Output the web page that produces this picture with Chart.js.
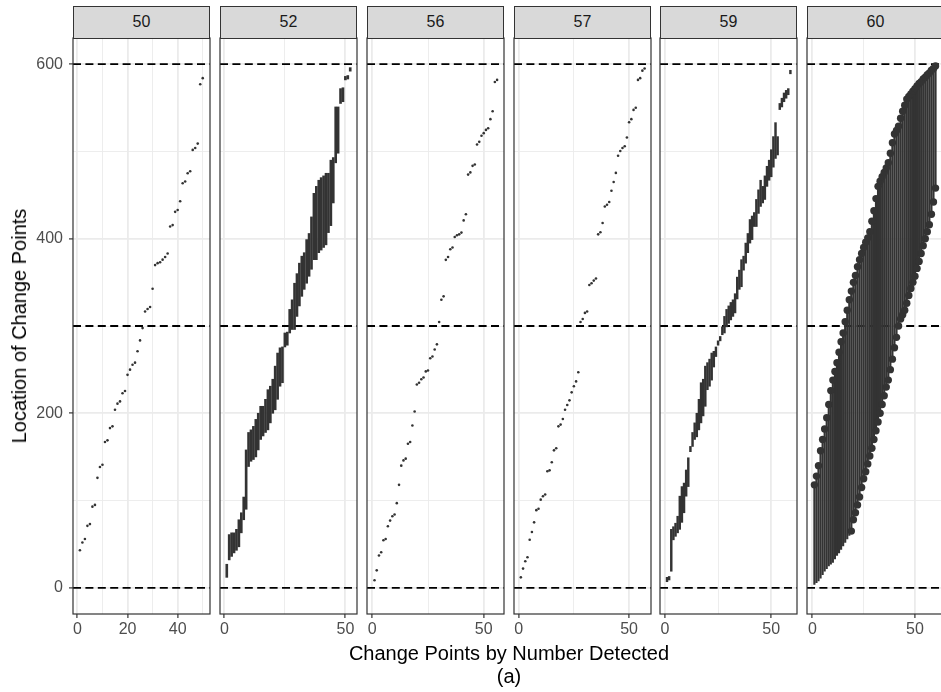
<!DOCTYPE html>
<html><head><meta charset="utf-8">
<script src="https://cdn.jsdelivr.net/npm/chart.js@4.4.0/dist/chart.umd.min.js"></script>
<style>
html,body{margin:0;padding:0;background:#fff;}
body{width:941px;height:692px;overflow:hidden;position:relative;font-family:"Liberation Sans",Arial,sans-serif;}
canvas{position:absolute;top:0;}
.strip{position:absolute;top:6px;height:33px;background:#d9d9d9;border:1.2px solid #333;box-sizing:border-box;color:#1a1a1a;font-size:16px;line-height:30px;text-align:center;}
.ytitle{position:absolute;left:19px;top:326px;transform:translate(-50%,-50%) rotate(-90deg);font-size:20px;line-height:20px;white-space:nowrap;color:#000;}
.xtitle{position:absolute;left:509px;transform:translateX(-50%);font-size:20px;line-height:20px;white-space:nowrap;color:#000;}
</style>
</head><body>
<script>
// ---------------- data ----------------
const facetLabels = ['50','52','56','57','59','60'];
const yGridValues = [0,100,200,300,400,500,600];
const yTickLabels = [0,200,400,600];
const refLines = [0,300,600];
const xGrid50 = [0,10,20,30,40,50];
const xLabels50 = [0,20,40];
const xGridWide = [0,25,50];
const xLabelsWide = [0,50];
const xLimits = [[-1.75,52.9],[-1.8,54.8],[-2.37,59.1],[-2.1,59.9],[-2.3,62.1],[-2.6,63.3]];
const yLimits = [-30,630];

const loc50 = [43,52,56,71,73,93,95,126,138.5,141,167,169,183,185,204,211,213.6,223,225.5,244,250,255.6,258,271,283.5,297.6,316.7,319.4,321.7,342.6,369.8,372,373,376,379,383,414,415.6,430.8,433,443,463.6,465.5,475,477.4,501.8,504,509,577,584];
const loc56 = [8.7,20,37,40.8,54.5,56,70.5,77,82,84,97,118,140,146,148,165,167,186,202,233,235,239,241,248,249,263,265,273,279,304.5,330,334,375.8,379,388,390,402,404,405,407,421,428,473.5,476,483.5,485,508,511,518,521,524.7,526.6,537,546,579.6,582];
const loc57 = [12,22,30.5,35,55,64,75,89,90.6,101,105,107,133.5,134.6,143.8,157.5,160,185,187,193.5,204,209.5,214.8,224,231,236.5,247,304.5,308,315,316.7,347,349,352,354.5,405,407.5,418,437,439,442,455,465,475.4,495,500.6,504,506,516,533.5,537,547.6,550,582,584,592.6,595];

const lo52 = [12,32,36,40,43,47,63,78,90,139,145,147,150,158,170,174,178,181,189,200,204,216,231,235,276,278,292,296,296,311,323,334,342,349,357,365,376,376,384,387,390,393,407,415,441,487,498,555,557,582,583,592];
const hi52 = [27,61,63,63,67,78,86,104,158,178,181,185,193,200,208,208,216,227,231,239,254,269,275,276,292,293,319,330,349,360,372,380,384,399,406,425,452,460,467,470,472,475,475,490,493,551,551,572,573,586,587,596];

const lo59 = [7,9,19,55,59,63,67,75,86,105,116,156,162,170,173,181,189,197,208,227,231,238,253,265,278,283,290,292,299,303,307,311,315,331,342,345,364,372,384,395,399,414,414,429,437,441,445,460,467,471,482,492,496,548,551,557,561,565,589];
const hi59 = [12,13,67,70,74,82,105,116,120,135,149,162,178,189,200,216,235,239,254,258,262,269,271,276,283,288,299,311,319,323,327,330,337,356,364,376,380,395,406,422,426,430,445,456,467,460,472,483,490,502,517,533,517,555,561,567,570,572,593];

const lo60 = [4,6,8,11,15,19,22,25,27,29,33,37,40,44,48,52,56,60,65,78,86,95,104,115,125,133,142,151,160,170,180,190,200,210,220,230,238,250,262,275,287,300,308,313,318,326,335,343,350,357,366,374,383,392,400,408,416,428,442,458];
const hi60 = [118,128,140,157,170,182,195,210,226,238,248,258,270,282,292,305,318,330,340,350,358,368,376,383,390,396,401,408,420,432,446,460,466,471,476,481,487,498,510,520,524,529,538,546,553,560,563,566,569,572,575,578,580,583,585,588,590,593,595,598];

// ---------------- layout / style ----------------
const PANEL_LEFT = [73,220,367,514,660,807];
const PANEL_W = 137;
const PLOT_TOP = 38, PLOT_BOTTOM = 614, H = 692;
const INK = '#333333';
Chart.defaults.font.family = '"Liberation Sans", Arial, sans-serif';

const pts = arr => arr.map((v,i)=>({x:i+1,y:v}));
const rng = (lo,hi) => lo.map((v,i)=>({x:i+1,y:[v,hi[i]]}));

const decor = {
  id:'decor',
  beforeDatasetsDraw(chart){
    const {ctx, chartArea:a, scales:{y}} = chart;
    ctx.save();
    ctx.beginPath(); ctx.rect(a.left,a.top,a.right-a.left,a.bottom-a.top); ctx.clip();
    ctx.strokeStyle='#000'; ctx.lineWidth=1.8; ctx.setLineDash([8,4.4]);
    refLines.forEach(v=>{const py=y.getPixelForValue(v); ctx.beginPath(); ctx.moveTo(a.left,py); ctx.lineTo(a.right,py); ctx.stroke();});
    ctx.restore();
  },
  afterDraw(chart){
    const {ctx, chartArea:a} = chart;
    ctx.save(); ctx.strokeStyle=INK; ctx.lineWidth=1.2; ctx.setLineDash([]);
    ctx.strokeRect(a.left,a.top,a.right-a.left,a.bottom-a.top);
    ctx.restore();
  }
};

function pointSet(data, r){
  return {type:'scatter', data, pointRadius:r, pointHoverRadius:r, backgroundColor:INK, borderWidth:0, showLine:false};
}
function barSet(data, w){
  return {type:'bar', data, backgroundColor:INK, borderWidth:0, barThickness:w, grouped:false};
}

function makePanel(i, datasets, xGrid, xLabels){
  const axisW = i===0 ? 73 : 4;
  const w = axisW + PANEL_W + 2;
  const cv = document.createElement('canvas');
  cv.width = w; cv.height = H;
  cv.style.left = (PANEL_LEFT[i]-axisW)+'px';
  cv.style.width = w+'px'; cv.style.height = H+'px';
  document.body.appendChild(cv);

  const strip = document.createElement('div');
  strip.className='strip';
  strip.style.left = PANEL_LEFT[i]+'px';
  strip.style.width = PANEL_W+'px';
  strip.textContent = facetLabels[i];
  document.body.appendChild(strip);

  const xMajor = c => xLabels.includes(c.tick && c.tick.value);
  const yMajor = c => yTickLabels.includes(c.tick && c.tick.value);
  new Chart(cv,{
    type:'scatter',
    data:{datasets},
    options:{
      responsive:false, animation:false, events:[],
      layout:{padding:{top:PLOT_TOP,right:2,left:0,bottom:0}},
      plugins:{legend:{display:false},tooltip:{enabled:false}},
      scales:{
        x:{type:'linear', min:xLimits[i][0], max:xLimits[i][1], offset:false,
          border:{display:false},
          grid:{offset:false, color:'#ebebeb', lineWidth:c=>xMajor(c)?1.8:0.9,
                drawTicks:true, tickLength:4, tickWidth:1.2,
                tickColor:c=>xMajor(c)?INK:'rgba(0,0,0,0)'},
          ticks:{autoSkip:false, maxRotation:0, minRotation:0, padding:2, color:'#4d4d4d', font:{size:16},
                 callback:v=>xLabels.includes(v)?String(v):''},
          afterBuildTicks:s=>{s.ticks = xGrid.map(v=>({value:v}));},
          afterFit:s=>{s.height = H-PLOT_BOTTOM;}
        },
        y:{type:'linear', min:yLimits[0], max:yLimits[1],
          border:{display:false},
          grid:{color:'#ebebeb', lineWidth:c=>yMajor(c)?1.8:0.9,
                drawTicks:i===0, tickLength:4, tickWidth:1.2,
                tickColor:c=>(i===0&&yMajor(c))?INK:'rgba(0,0,0,0)'},
          ticks:{display:i===0, padding:6, color:'#4d4d4d', font:{size:16},
                 callback:v=>yTickLabels.includes(v)?String(v):''},
          afterBuildTicks:s=>{s.ticks = yGridValues.map(v=>({value:v}));},
          afterFit:s=>{s.width = axisW;}
        }
      }
    },
    plugins:[decor]
  });
}

makePanel(0,[pointSet(pts(loc50),1.3)], xGrid50, xLabels50);
makePanel(1,[barSet(rng(lo52,hi52),2.0)], xGridWide, xLabelsWide);
makePanel(2,[pointSet(pts(loc56),1.3)], xGridWide, xLabelsWide);
makePanel(3,[pointSet(pts(loc57),1.3)], xGridWide, xLabelsWide);
makePanel(4,[barSet(rng(lo59,hi59),1.8)], xGridWide, xLabelsWide);
makePanel(5,[
  pointSet(pts(hi60),3.7),
  pointSet(pts(lo60).map((p,k)=>k>=18?p:{x:p.x,y:null}),3.7),
  barSet(rng(lo60,hi60),1.5)
], xGridWide, xLabelsWide);

const yt = document.createElement('div'); yt.className='ytitle'; yt.textContent='Location of Change Points'; document.body.appendChild(yt);
const xt = document.createElement('div'); xt.className='xtitle'; xt.style.top='643px'; xt.textContent='Change Points by Number Detected'; document.body.appendChild(xt);
const cap = document.createElement('div'); cap.className='xtitle'; cap.style.top='666px'; cap.textContent='(a)'; document.body.appendChild(cap);
</script>
</body></html>
